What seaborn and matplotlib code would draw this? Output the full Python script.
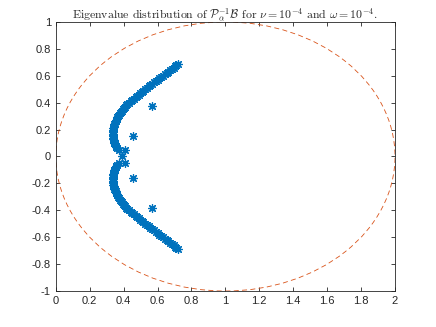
import numpy as np
import pandas as pd
import seaborn as sns
import matplotlib
matplotlib.use("Agg")
import matplotlib.pyplot as plt
from matplotlib.patches import Circle

sns.set_style("ticks")
plt.rcParams['font.family'] = ['Liberation Sans', 'DejaVu Sans']
plt.rcParams['mathtext.fontset'] = 'cm'

# eigenvalues (upper branch, lower branch, isolated ones)
upper_re = [0.360, 0.356, 0.352, 0.349, 0.346, 0.343, 0.341, 0.339, 0.338, 0.337,
            0.337, 0.336, 0.337, 0.337, 0.338, 0.339, 0.341, 0.343, 0.346, 0.349,
            0.352, 0.355, 0.358, 0.362, 0.366, 0.371, 0.377, 0.383, 0.389, 0.395,
            0.401, 0.408, 0.415, 0.422, 0.430, 0.441, 0.451, 0.460, 0.470, 0.480,
            0.489, 0.498, 0.507, 0.517, 0.527, 0.537, 0.548, 0.558, 0.569, 0.579,
            0.590, 0.600, 0.611, 0.621, 0.632, 0.643, 0.654, 0.664, 0.675, 0.686,
            0.696, 0.703, 0.710, 0.720]
upper_im = [0.06, 0.07, 0.08, 0.09, 0.10, 0.11, 0.12, 0.13, 0.14, 0.15,
            0.16, 0.17, 0.18, 0.19, 0.20, 0.21, 0.22, 0.23, 0.24, 0.25,
            0.26, 0.27, 0.28, 0.29, 0.30, 0.31, 0.32, 0.33, 0.34, 0.35,
            0.36, 0.37, 0.38, 0.39, 0.40, 0.41, 0.42, 0.43, 0.44, 0.45,
            0.46, 0.47, 0.48, 0.49, 0.50, 0.51, 0.52, 0.53, 0.54, 0.55,
            0.56, 0.57, 0.58, 0.59, 0.60, 0.61, 0.62, 0.63, 0.64, 0.65,
            0.66, 0.67, 0.68, 0.69]
lower_re = [0.360, 0.356, 0.352, 0.349, 0.346, 0.343, 0.341, 0.339, 0.338, 0.337,
            0.337, 0.336, 0.337, 0.337, 0.338, 0.339, 0.341, 0.343, 0.346, 0.349,
            0.352, 0.355, 0.358, 0.362, 0.366, 0.371, 0.377, 0.383, 0.389, 0.395,
            0.401, 0.408, 0.415, 0.422, 0.430, 0.441, 0.451, 0.460, 0.470, 0.480,
            0.489, 0.498, 0.507, 0.517, 0.527, 0.537, 0.548, 0.558, 0.569, 0.579,
            0.590, 0.600, 0.611, 0.621, 0.632, 0.643, 0.654, 0.664, 0.675, 0.686,
            0.696, 0.703, 0.710, 0.720]
lower_im = [-0.06, -0.07, -0.08, -0.09, -0.10, -0.11, -0.12, -0.13, -0.14, -0.15,
            -0.16, -0.17, -0.18, -0.19, -0.20, -0.21, -0.22, -0.23, -0.24, -0.25,
            -0.26, -0.27, -0.28, -0.29, -0.30, -0.31, -0.32, -0.33, -0.34, -0.35,
            -0.36, -0.37, -0.38, -0.39, -0.40, -0.41, -0.42, -0.43, -0.44, -0.45,
            -0.46, -0.47, -0.48, -0.49, -0.50, -0.51, -0.52, -0.53, -0.54, -0.55,
            -0.56, -0.57, -0.58, -0.59, -0.60, -0.61, -0.62, -0.63, -0.64, -0.65,
            -0.66, -0.67, -0.68, -0.69]
iso_re = [0.373, 0.410, 0.390, 0.372, 0.410, 0.456, 0.456, 0.565, 0.565]
iso_im = [0.045, 0.045, 0.0, -0.045, -0.045, 0.150, -0.158, 0.375, -0.380]

circle_center = 1.0
circle_radius = 1.0

df = pd.DataFrame({
    're': upper_re + lower_re + iso_re,
    'im': upper_im + lower_im + iso_im,
})

fig = plt.figure(figsize=(4.36, 3.27), dpi=100)
ax = fig.add_axes([0.128, 0.110, 0.778, 0.823])

sns.scatterplot(data=df, x='re', y='im', marker=(8, 2, 0), color='#0072BD',
                s=32, linewidth=0.9, ax=ax, zorder=3)

ax.add_patch(Circle((circle_center, 0), circle_radius, fill=False,
                    edgecolor='#D95319', linestyle=(0, (6, 4)), linewidth=0.6))

ax.set_xlim(0, 2)
ax.set_ylim(-1, 1)
ax.set_xticks(np.arange(0, 2.01, 0.2))
ax.set_yticks(np.arange(-1, 1.01, 0.2))
ax.set_xticklabels(['0', '0.2', '0.4', '0.6', '0.8', '1', '1.2', '1.4', '1.6', '1.8', '2'])
ax.set_yticklabels(['-1', '-0.8', '-0.6', '-0.4', '-0.2', '0', '0.2', '0.4', '0.6', '0.8', '1'])
ax.set_xlabel('')
ax.set_ylabel('')
ax.tick_params(direction='in', length=3, width=0.6, labelsize=8, colors='#262626',
               top=True, right=True)
for s in ax.spines.values():
    s.set_visible(True)
    s.set_linewidth(0.6)
    s.set_color('#262626')

ax.set_title(r'Eigenvalue distribution of $\mathcal{P}_\alpha^{-1}\mathcal{B}$ for $\nu=10^{-4}$ and $\omega=10^{-4}$.',
             fontsize=8.5, family=['cmr10', 'DejaVu Serif'], pad=2)

fig.savefig('out.png', dpi=100)
